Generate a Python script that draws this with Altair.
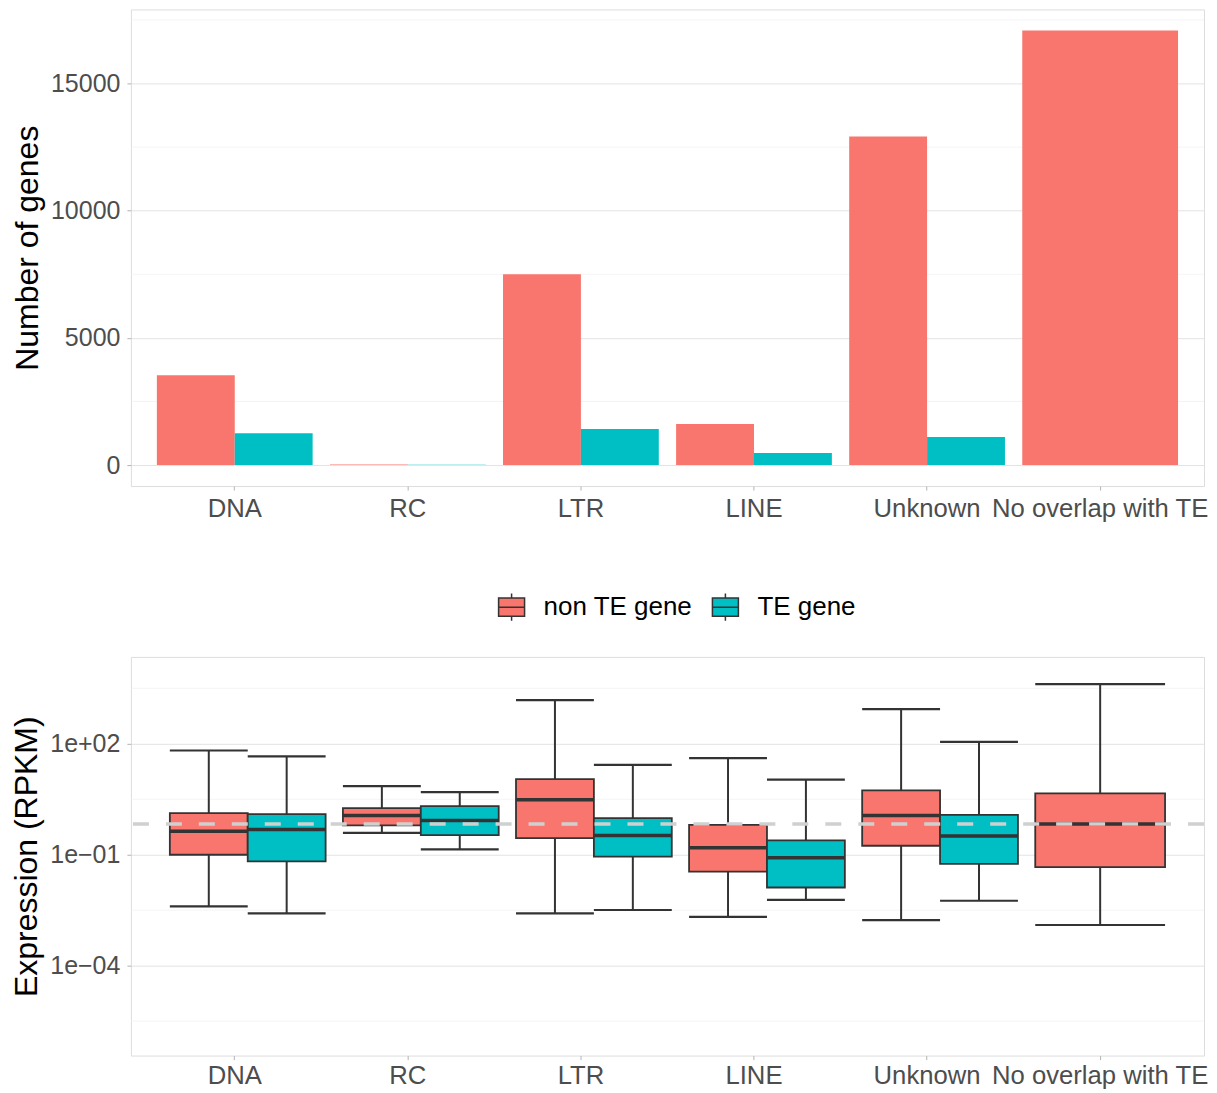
import altair as alt
import pandas as pd

# ---------------- data ----------------
categories = ["DNA", "RC", "LTR", "LINE", "Unknown", "No overlap with TE"]
groups = ["non TE gene", "TE gene"]
colors = ["#F8766D", "#00BFC4"]

# top panel: number of genes
count_non_te = [3535, 20, 7500, 1610, 12920, 17085]
count_te = [1255, 8, 1415, 470, 1100, None]

# bottom panel: expression box statistics (RPKM)
non_te_lower = [0.004, 0.39, 0.0026, 0.0021, 0.0017, 0.00126]
non_te_q1 = [0.10, 0.62, 0.28, 0.035, 0.175, 0.046]
non_te_median = [0.43, 1.15, 3.06, 0.155, 1.15, 0.68]
non_te_q3 = [1.34, 1.82, 11.1, 0.64, 5.5, 4.6]
non_te_upper = [66, 7.2, 1520, 41, 870, 4100]

te_lower = [0.0026, 0.139, 0.0032, 0.006, 0.0057, None]
te_q1 = [0.066, 0.34, 0.089, 0.013, 0.057, None]
te_median = [0.48, 0.85, 0.33, 0.083, 0.32, None]
te_q3 = [1.26, 2.07, 0.98, 0.245, 1.2, None]
te_upper = [46, 4.95, 27, 10.8, 113, None]

# reference line: median of genes with no overlap with TE
reference_expression = non_te_median[5]

top_ticks = [0, 5000, 10000, 15000]
top_minor = [2500, 7500, 12500, 17500]
bottom_ticks = [1e-4, 1e-1, 1e2]
bottom_tick_labels = ["1e\u221204", "1e\u221201", "1e+02"]
bottom_minor = [10 ** -5.5, 10 ** -2.5, 10 ** 0.5, 10 ** 3.5]

FONT = "Liberation Sans"
DARK = "#333333"

# ---------------- tables ----------------
rows = []
for i, c in enumerate(categories):
    rows.append({"category": c, "group": groups[0], "count": count_non_te[i]})
    if count_te[i] is not None:
        rows.append({"category": c, "group": groups[1], "count": count_te[i]})
counts = pd.DataFrame(rows)
single_cat = categories[-1]
counts_dodge = counts[counts.category != single_cat]
counts_single = counts[counts.category == single_cat]

brows = []
for i, c in enumerate(categories):
    brows.append({"category": c, "group": groups[0], "lower": non_te_lower[i], "q1": non_te_q1[i],
                  "median": non_te_median[i], "q3": non_te_q3[i], "upper": non_te_upper[i]})
    if te_median[i] is not None:
        brows.append({"category": c, "group": groups[1], "lower": te_lower[i], "q1": te_q1[i],
                      "median": te_median[i], "q3": te_q3[i], "upper": te_upper[i]})
boxes = pd.DataFrame(brows)
boxes_dodge = boxes[boxes.category != single_cat]
boxes_single = boxes[boxes.category == single_cat]

color_scale = alt.Scale(domain=groups, range=colors)
offset = alt.XOffset("group:N", sort=groups,
                     scale=alt.Scale(domain=groups, paddingInner=0, paddingOuter=0))

axis_common = dict(labelFont=FONT, labelColor="#4D4D4D",
                   titleFont=FONT, titleFontSize=32, titleColor="black",
                   titleFontWeight="normal", domain=False, tickColor="#B3B3B3",
                   tickSize=4, gridColor="#E3E3E3", gridWidth=1, labelLimit=0)

# ---------------- top panel ----------------
x_top = alt.X("category:N", sort=categories, title=None,
              scale=alt.Scale(domain=categories, paddingInner=0.1, paddingOuter=0.15),
              axis=alt.Axis(labelAngle=0, labelPadding=6, labelFontSize=25.7, **axis_common))
y_top_scale = alt.Scale(domain=[-825, 17910], nice=False, zero=False)
y_top = alt.Y("count:Q", scale=y_top_scale, title="Number of genes",
              axis=alt.Axis(values=top_ticks, format="d", labelPadding=7, labelFontSize=25,
                            titlePadding=6, **axis_common))

minor_top = alt.Chart(pd.DataFrame({"v": top_minor})).mark_rule(
    color="#EFEFEF", strokeWidth=0.7).encode(y=alt.Y("v:Q", scale=y_top_scale))

bars_dodge = alt.Chart(counts_dodge).mark_bar().encode(
    x=x_top, xOffset=offset, y=y_top,
    color=alt.Color("group:N", scale=color_scale, legend=None))
bars_single = alt.Chart(counts_single).mark_bar().encode(
    x=x_top, y=y_top,
    color=alt.Color("group:N", scale=color_scale, legend=None))

top = alt.layer(minor_top, bars_dodge, bars_single).properties(width=1074, height=477)

# ---------------- bottom panel ----------------
x_bot = alt.X("category:N", sort=categories, title=None,
              scale=alt.Scale(domain=categories, paddingInner=0.25, paddingOuter=0.225),
              axis=alt.Axis(labelAngle=0, labelPadding=4, labelFontSize=25.7, **axis_common))
y_bot_scale = alt.Scale(type="log", domain=[3.7e-7, 22440], nice=False)
label_expr = "[" + ",".join("'%s'" % s for s in bottom_tick_labels) + "][indexof([" + \
    ",".join(repr(v) for v in bottom_ticks) + "], datum.value)]"
y_bot_axis = alt.Axis(values=bottom_ticks, labelExpr=label_expr, labelPadding=7,
                      labelFontSize=25, titlePadding=6, **axis_common)

legend_path = "M-1,-0.7H1V0.7H-1Z M-1,0H1 M0,-0.7V-1.05 M0,0.7V1.05"
legend = alt.Legend(title=None, orient="none", legendX=367, legendY=-64,
                    direction="horizontal", symbolType=legend_path, symbolSize=676,
                    symbolStrokeColor=DARK, symbolStrokeWidth=1.5, symbolOpacity=1,
                    labelFont=FONT, labelFontSize=26, labelColor="black",
                    labelOffset=18, columnPadding=17, padding=0)

minor_bot = alt.Chart(pd.DataFrame({"v": bottom_minor})).mark_rule(
    color="#EFEFEF", strokeWidth=0.7).encode(y=alt.Y("v:Q", scale=y_bot_scale))


def box_layers(df, dodge):
    enc = {"x": x_bot}
    if dodge:
        enc["xOffset"] = offset
    base = alt.Chart(df)
    whisker = base.mark_rule(color=DARK, strokeWidth=2).encode(
        y=alt.Y("lower:Q", scale=y_bot_scale, title="Expression (RPKM)", axis=y_bot_axis),
        y2="upper:Q", **enc)
    cap_lo = base.mark_bar(fillOpacity=0, stroke=DARK, strokeWidth=2.2).encode(
        y=alt.Y("lower:Q", scale=y_bot_scale), y2="lower:Q", **enc)
    cap_hi = base.mark_bar(fillOpacity=0, stroke=DARK, strokeWidth=2.2).encode(
        y=alt.Y("upper:Q", scale=y_bot_scale), y2="upper:Q", **enc)
    box = base.mark_bar(stroke=DARK, strokeWidth=1.8).encode(
        y=alt.Y("q1:Q", scale=y_bot_scale), y2="q3:Q",
        color=alt.Color("group:N", scale=color_scale, legend=legend), **enc)
    med = base.mark_bar(fillOpacity=0, stroke=DARK, strokeWidth=3.5).encode(
        y=alt.Y("median:Q", scale=y_bot_scale), y2="median:Q", **enc)
    return [whisker, cap_lo, cap_hi, box, med]


ref = alt.Chart(pd.DataFrame({"ref": [reference_expression]})).mark_rule(
    color="#D0D0D0", strokeWidth=3.5, strokeDash=[16, 17]).encode(
    y=alt.Y("ref:Q", scale=y_bot_scale))

bottom = alt.layer(minor_bot, *box_layers(boxes_dodge, True),
                   *box_layers(boxes_single, False), ref).properties(width=1074, height=399)

chart = alt.vconcat(top, bottom, spacing=70).resolve_scale(color="independent").properties(
    padding={"left": 2, "top": 0, "right": 0, "bottom": 0}
).configure_view(stroke="#B3B3B3", strokeWidth=1).configure(background="white")

chart.save("out.html", embed_options={"renderer": "svg", "actions": False})
